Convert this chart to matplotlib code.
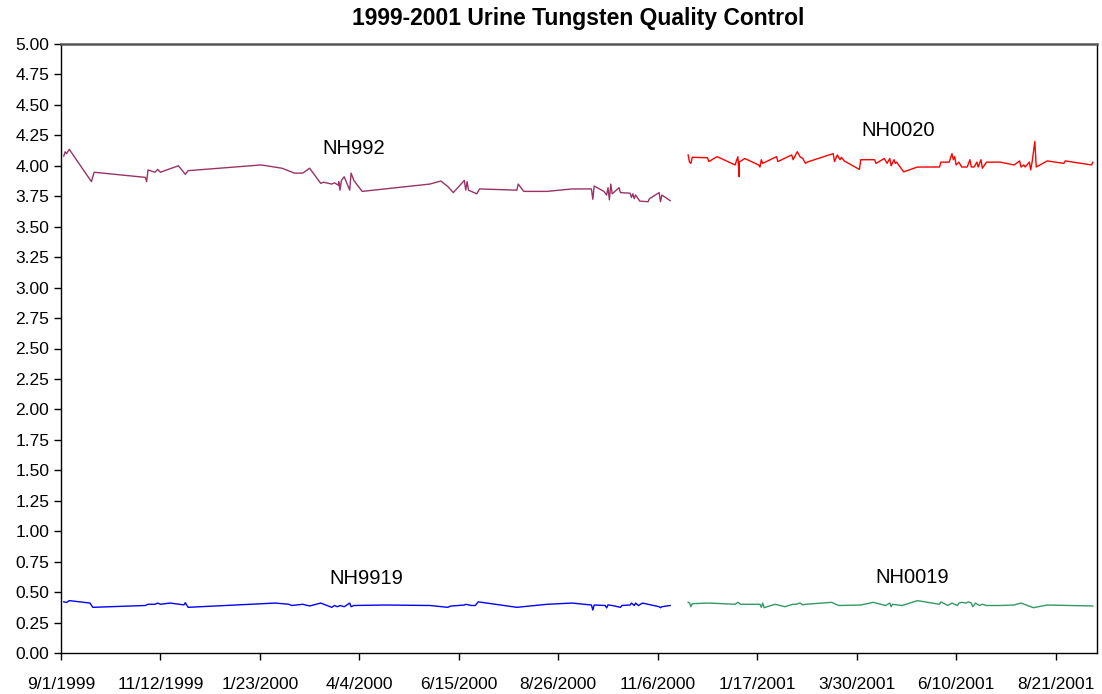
import numpy as np
import matplotlib
matplotlib.use("Agg")
import matplotlib.pyplot as plt
import matplotlib.dates as mdates
from matplotlib.ticker import FuncFormatter, MultipleLocator

plt.rcParams['font.family'] = ['Liberation Sans', 'DejaVu Sans']

title = "1999-2001 Urine Tungsten Quality Control"
base_date = "1999-09-01"

# day offsets from 9/1/1999 and measured values
nh992_days = [2,3,4,6,22,24,61,62,63,68,70,72,75,85,90,92,145,160,169,175,180,188,190,196,198,
              201,201,202,203,205,209,210,212,218,267,275,280,284,292,293,294,295,301,303,330,331,
              335,352,370,384,385,386,393,395,396,397,398,399,404,405,412,413,414,415,416,419,425,
              426,433,434,435,441]
nh992_vals = [4.08,4.115,4.10,4.135,3.87,3.947,3.905,3.87,3.966,3.947,3.97,3.947,3.96,4.0,3.93,3.96,
              4.007,3.98,3.94,3.94,3.98,3.856,3.865,3.85,3.86,3.84,3.87,3.80,3.88,3.91,3.80,3.94,
              3.88,3.79,3.85,3.875,3.83,3.78,3.88,3.80,3.87,3.80,3.77,3.81,3.80,3.85,3.79,3.79,
              3.81,3.81,3.725,3.834,3.79,3.76,3.82,3.72,3.85,3.77,3.82,3.78,3.775,3.74,3.77,3.73,
              3.76,3.71,3.705,3.73,3.78,3.705,3.76,3.714]

nh0020_days = [454,455,456,457,468,469,475,488,490,491,491,495,505,506,507,508,518,519,529,530,533,
               535,537,539,540,559,560,562,564,565,567,578,579,589,590,596,598,600,601,603,604,605,
               610,620,636,637,643,645,646,647,648,650,652,656,658,659,661,663,664,666,667,670,680,
               690,694,695,697,698,701,702,703,705,706,714,726,727,746,747]
nh0020_vals = [4.089,4.03,4.02,4.07,4.066,4.035,4.075,4.007,4.075,3.91,4.03,4.06,4.007,3.99,4.05,4.02,
               4.075,4.035,4.089,4.05,4.116,4.075,4.06,4.02,4.03,4.10,4.035,4.089,4.05,4.07,4.04,
               3.97,4.05,4.05,4.02,4.06,4.02,4.06,4.0,4.05,4.02,4.03,3.95,3.99,3.99,4.03,4.03,4.10,
               4.05,4.075,4.007,4.03,3.99,3.99,4.05,3.99,3.99,4.03,3.99,4.05,3.98,4.03,4.03,4.007,
               4.04,3.99,4.007,3.99,4.03,3.966,4.03,4.20,3.99,4.04,4.02,4.04,4.007,4.03]

nh9919_days = [2,4,6,21,23,61,63,68,70,72,79,89,90,92,155,165,167,175,180,188,196,198,200,202,205,
               209,210,212,235,267,280,282,292,293,297,300,302,330,352,370,384,385,386,394,395,396,
               399,405,406,412,413,415,416,418,421,433,434,435,441]
nh9919_vals = [0.42,0.415,0.43,0.41,0.375,0.39,0.40,0.40,0.41,0.40,0.41,0.395,0.413,0.375,0.41,0.40,
               0.39,0.40,0.386,0.41,0.375,0.39,0.38,0.39,0.38,0.41,0.38,0.39,0.394,0.39,0.375,0.385,
               0.394,0.40,0.39,0.39,0.42,0.375,0.40,0.41,0.394,0.353,0.394,0.39,0.37,0.395,0.39,
               0.375,0.39,0.394,0.41,0.39,0.41,0.39,0.41,0.38,0.372,0.38,0.39]

nh0019_days = [454,455,456,457,469,488,490,492,506,507,508,509,517,524,530,532,535,537,539,558,561,
               563,579,588,597,600,601,602,609,620,636,637,642,645,649,650,652,655,657,659,660,662,
               665,667,670,680,690,695,704,714,747]
nh0019_vals = [0.416,0.41,0.38,0.405,0.41,0.40,0.416,0.40,0.40,0.375,0.41,0.372,0.40,0.38,0.40,0.40,
               0.41,0.395,0.40,0.416,0.40,0.39,0.394,0.416,0.39,0.41,0.38,0.40,0.39,0.43,0.40,0.42,
               0.39,0.41,0.39,0.41,0.416,0.41,0.42,0.41,0.38,0.41,0.39,0.40,0.39,0.39,0.394,0.41,
               0.372,0.394,0.386]

series_names = ["NH992", "NH0020", "NH9919", "NH0019"]
series_colors = ["#993366", "#FF0000", "#0000FF", "#339966"]
label_days = [212, 606, 221, 616]
label_vals = [4.14, 4.29, 0.61, 0.62]

x_min_day, x_max_day, x_step = 0, 750, 72
y_min, y_max, y_step = 0.0, 5.0, 0.25

base = np.datetime64(base_date)
def to_dates(days):
    return (base + np.array(days, dtype='timedelta64[D]')).astype('datetime64[D]').astype(object)

fig = plt.figure(figsize=(11.02, 6.94), dpi=100)
ax = fig.add_axes([61/1102, 41/694, 1036/1102, 609/694])

all_days = [nh992_days, nh0020_days, nh9919_days, nh0019_days]
all_vals = [nh992_vals, nh0020_vals, nh9919_vals, nh0019_vals]
for d, v, c in zip(all_days, all_vals, series_colors):
    ax.plot(to_dates(d), v, color=c, lw=1.0)

for name, d, v in zip(series_names, label_days, label_vals):
    ax.text(to_dates([d])[0], v, name, ha='center', va='center', fontsize=14.5)

ax.set_xlim(to_dates([x_min_day])[0], to_dates([x_max_day])[0])
ax.set_ylim(y_min, y_max)
tick_dates = to_dates(list(range(x_min_day, x_max_day, x_step)))
ax.set_xticks([mdates.date2num(t) for t in tick_dates])
ax.xaxis.set_major_formatter(FuncFormatter(
    lambda x, pos: (lambda d: f"{d.month}/{d.day}/{d.year}")(mdates.num2date(x))))
ax.yaxis.set_major_locator(MultipleLocator(y_step))
ax.yaxis.set_major_formatter(FuncFormatter(lambda y, pos: f"{y:.2f}"))
ax.tick_params(axis='both', direction='out', length=5, width=1, labelsize=12.5, colors='black')
ax.tick_params(axis='x', pad=12)
for s in ax.spines.values():
    s.set_color('black')
    s.set_linewidth(1.0)
ax.spines['top'].set_color('#555555')
ax.spines['top'].set_linewidth(1.8)

fig.text(578.5 / 1102, 1 - 18.5/694, title, ha='center', va='center',
         fontsize=16.5, fontweight='bold')

fig.savefig("out.png", dpi=100)
